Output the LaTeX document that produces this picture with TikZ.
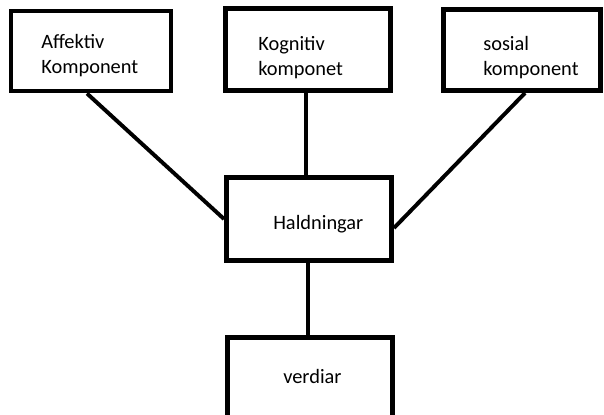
\documentclass[tikz,border=0pt]{standalone}
\usepackage{fontspec}
\setmainfont{Carlito}
\usetikzlibrary{calc}

\begin{document}
\begin{tikzpicture}[
	x=0.025cm, y=-0.025cm,
	box/.style={draw, line width=3.5pt, minimum width=4.125cm, minimum height=2.05cm, inner sep=0pt},
	txt/.style={anchor=base west, align=left, inner sep=0pt},
	link/.style={line width=2.8pt},
	font=\fontsize{14.5}{17.7}\selectfont
	]
	\useasboundingbox (0,0) rectangle (604,414);
	
	\node[box, minimum width=4cm, minimum height=2cm] (affektiv) at (91,51) {};
	\node[txt] (affektivtxt) at (41,73) {Affektiv\\Komponent};
	
	\node[box] (kognitiv) at (308,49.5) {};
	\node[txt] (kognitivtxt) at (258,75) {Kognitiv\\komponet};
	
	\node[box, minimum width=3.925cm, minimum height=2.025cm] (sosial) at (522,50) {};
	\node[txt] (sosialtxt) at (483,75) {sosial\\komponent};
	
	\node[box, minimum height=2.075cm] (haldningar) at (309,219) {};
	\node[txt] (haldningartxt) at (273,229) {Haldningar};
	
	\node[box] (verdiar) at (310,378.5) {};
	\node[txt] (verdiartxt) at (283,383) {verdiar};
	
	\draw[link] ($(affektiv.south)+(-4,0)$) -- (haldningar.west);
	\draw[link] ($(kognitiv.south)+(-2,0)$) -- ($(haldningar.north)+(-3,0)$);
	\draw[link] ($(sosial.south)+(3,0)$) -- ($(haldningar.east)+(0,9)$);
	\draw[link] ($(haldningar.south)+(-1,0)$) -- ($(verdiar.north)+(-2,0)$);
	
\end{tikzpicture}
\end{document}
